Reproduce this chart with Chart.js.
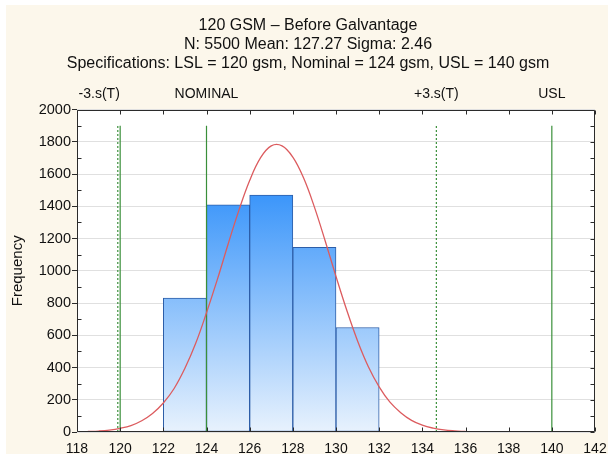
<!DOCTYPE html>
<html>
<head>
<meta charset="utf-8">
<title>120 GSM - Before Galvantage</title>
<script src="https://cdn.jsdelivr.net/npm/chart.js@4.4.1/dist/chart.umd.min.js"></script>
<style>
  html, body { margin: 0; padding: 0; background: #fff; }
  #wrap { width: 608px; height: 456px; }
</style>
</head>
<body>
<div id="wrap"><canvas id="histChart"></canvas></div>
<script>
// histogram bins (lower edge, gsm) and counts
var binStart = [122, 124, 126, 128, 130];
var binWidth = 2;
var counts = [830, 1410, 1470, 1145, 648];

// fitted normal curve
var curveX = [118.5, 119, 119.5, 120, 120.5, 121, 121.5, 122, 122.5, 123, 123.5, 124,
              124.5, 125, 125.5, 126, 126.5, 127, 127.5, 128, 128.5, 129, 129.5, 130,
              130.5, 131, 131.5, 132, 132.5, 133, 133.5, 134, 134.5, 135, 135.5, 136];
var curveY = [3, 6, 12, 23, 40, 70, 115, 180, 270, 395, 550, 740,
              945, 1165, 1375, 1560, 1700, 1775, 1775, 1705, 1575, 1395, 1185, 965,
              755, 565, 405, 280, 185, 120, 72, 42, 24, 13, 7, 3];

// reference lines
var sigmaLines = [119.89, 134.65];   // -3.s(T), +3.s(T)
var specLines = [120, 124, 140];     // LSL, nominal, USL
var lineTop = 1900;

// labels above the plot
var topLabels = ['-3.s(T)', 'NOMINAL', '+3.s(T)', 'USL'];
var topLabelAt = [119.89, 124, 134.65, 140];

var titleLines = [
  '120 GSM \u2013 Before Galvantage',
  'N: 5500 Mean: 127.27 Sigma: 2.46',
  'Specifications: LSL = 120 gsm, Nominal = 124 gsm, USL = 140 gsm'
];

var FONT = '"Liberation Sans", Arial, sans-serif';

var frame = {
  id: 'frame',
  beforeDraw: function (chart) {
    var c = chart.ctx, a = chart.chartArea;
    c.save();
    c.fillStyle = '#fcf7eb';
    c.fillRect(6, 5, 602, 449);
    c.fillStyle = '#ffffff';
    c.fillRect(a.left, a.top, a.right - a.left, a.bottom - a.top);
    c.restore();
  },
  afterDatasetsDraw: function (chart) {
    var c = chart.ctx, a = chart.chartArea;
    var xs = chart.scales.x, ys = chart.scales.y;
    var L = Math.round(a.left) + 0.5, R = Math.round(a.right) - 0.5;
    var T = Math.round(a.top) + 0.5, B = Math.round(a.bottom) - 0.5;
    c.save();
    c.strokeStyle = '#2b2b2b';
    c.lineWidth = 1;
    c.beginPath();
    c.rect(L, T, R - L, B - T);
    xs.ticks.forEach(function (t) {
      var px = Math.round(xs.getPixelForValue(t.value)) + 0.5;
      c.moveTo(px, T); c.lineTo(px, T + 4);
      c.moveTo(px, B); c.lineTo(px, B - 4);
    });
    for (var i = 0; i < ys.ticks.length; i++) {
      var v = ys.ticks[i].value;
      var py = Math.round(ys.getPixelForValue(v)) + 0.5;
      c.moveTo(R, py); c.lineTo(R - 4, py);
      if (i < ys.ticks.length - 1) {
        var mid = (v + ys.ticks[i + 1].value) / 2;
        var pm = Math.round(ys.getPixelForValue(mid)) + 0.5;
        c.moveTo(R, pm); c.lineTo(R - 4, pm);
        c.moveTo(L, pm); c.lineTo(L + 4, pm);
      }
    }
    c.stroke();

    c.fillStyle = '#111';
    c.font = '14px ' + FONT;
    c.textBaseline = 'middle';
    topLabels.forEach(function (txt, i) {
      var px = xs.getPixelForValue(topLabelAt[i]);
      if (i === 0) { c.textAlign = 'right'; px += 2; } else { c.textAlign = 'center'; }
      c.fillText(txt, px, 94);
    });
    c.restore();
  }
};

var datasets = [];

datasets.push({
  type: 'bar',
  data: binStart.map(function (s, i) { return { x: s + binWidth / 2, y: counts[i] }; }),
  backgroundColor: function (ctx) {
    var ch = ctx.chart;
    if (!ch.chartArea) return '#6cb0f8';
    var y = ch.scales.y;
    var g = ch.ctx.createLinearGradient(0, y.getPixelForValue(1500), 0, y.getPixelForValue(0));
    g.addColorStop(0, '#3894fa');
    g.addColorStop(1, '#e8f2fd');
    return g;
  },
  borderColor: '#2d5ea8',
  borderWidth: 1,
  borderSkipped: false,
  barPercentage: 1,
  categoryPercentage: 1,
  order: 3
});

sigmaLines.forEach(function (v) {
  datasets.push({
    type: 'line',
    data: [{ x: v, y: 0 }, { x: v, y: lineTop }],
    borderColor: '#3a8f3a',
    borderWidth: 1.2,
    borderDash: [2, 2],
    pointRadius: 0,
    order: 2
  });
});
specLines.forEach(function (v) {
  datasets.push({
    type: 'line',
    data: [{ x: v, y: 0 }, { x: v, y: lineTop }],
    borderColor: '#3a8f3a',
    borderWidth: 1.2,
    pointRadius: 0,
    order: 2
  });
});

datasets.push({
  type: 'line',
  data: curveX.map(function (x, i) { return { x: x, y: curveY[i] }; }),
  borderColor: '#dc5c5f',
  borderWidth: 1.3,
  pointRadius: 0,
  tension: 0.4,
  order: 1
});

new Chart(document.getElementById('histChart'), {
  type: 'bar',
  data: { datasets: datasets },
  plugins: [frame],
  options: {
    responsive: true,
    maintainAspectRatio: false,
    animation: false,
    layout: { padding: { left: 21, right: 13, top: 0, bottom: 0 } },
    plugins: {
      legend: { display: false },
      tooltip: { enabled: false },
      title: {
        display: true,
        text: titleLines,
        color: '#111',
        font: { family: FONT, size: 16, weight: 'normal', lineHeight: 1.2 },
        padding: { top: 16, bottom: 36 }
      }
    },
    scales: {
      x: {
        type: 'linear',
        position: 'bottom',
        min: 118,
        max: 142,
        offset: false,
        grid: { display: false, drawTicks: false, offset: false },
        border: { display: false },
        ticks: { stepSize: 2, color: '#111', font: { family: FONT, size: 14 }, padding: 9, maxRotation: 0 },
        afterFit: function (s) { s.height = 24; s.paddingLeft = 0; s.paddingRight = 0; }
      },
      y: {
        min: 0,
        max: 2000,
        grid: { color: '#e0e0e0', lineWidth: 1, tickColor: '#2b2b2b', tickLength: 5 },
        border: { display: false },
        ticks: {
          stepSize: 200, color: '#111', font: { family: FONT, size: 14.5 }, padding: 1,
          callback: function (v) { return String(v); }
        },
        title: {
          display: true,
          text: 'Frequency',
          color: '#111',
          font: { family: FONT, size: 15 },
          padding: { top: -12, bottom: 0 }
        },
        afterFit: function (s) { s.width = 56; s.paddingTop = 0; s.paddingBottom = 0; }
      }
    }
  }
});
</script>
</body>
</html>
